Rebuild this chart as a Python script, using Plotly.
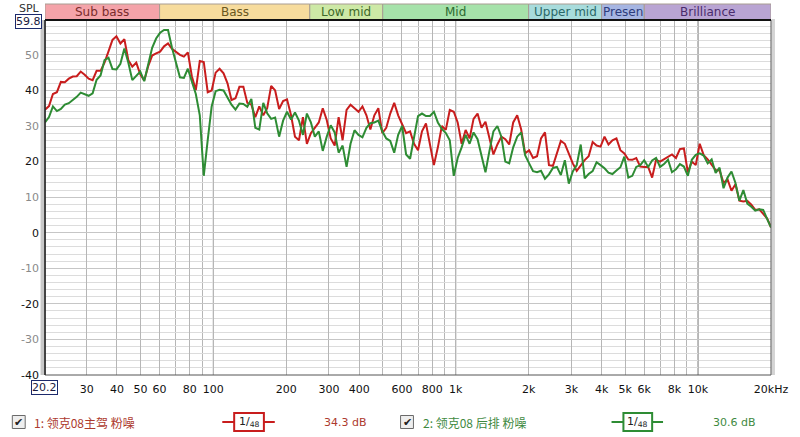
import math
import plotly.graph_objects as go

# ---------------- data ----------------
FREQ_HZ = [20.20, 20.98, 21.78, 22.62, 23.49, 24.39, 25.33, 26.30, 27.31, 28.36,
           29.45, 30.58, 31.76, 32.98, 34.24, 35.56, 36.93, 38.35, 39.82, 41.35,
           42.94, 44.59, 46.30, 48.08, 49.93, 51.85, 53.84, 55.91, 58.06, 60.29,
           62.61, 65.01, 67.51, 70.11, 72.80, 75.60, 78.51, 81.52, 84.66, 87.91,
           91.29, 94.80, 98.41, 102.2, 106.1, 110.2, 114.4, 118.8, 123.4, 128.1,
           133.0, 138.1, 143.5, 149.0, 154.7, 160.7, 166.8, 173.2, 179.9, 186.8,
           194.0, 201.4, 209.2, 217.2, 225.6, 234.2, 243.2, 252.6, 262.3, 272.3,
           282.8, 293.7, 305.0, 316.7, 328.8, 341.5, 354.6, 368.2, 382.4, 397.1,
           412.3, 428.2, 444.6, 461.7, 479.5, 497.9, 517.0, 536.9, 557.6, 579.0,
           601.2, 624.3, 648.3, 673.3, 699.1, 726.0, 753.9, 782.9, 813.0, 844.2,
           876.7, 910.4, 945.3, 981.8, 1019, 1058, 1099, 1141, 1185, 1231,
           1278, 1327, 1378, 1431, 1486, 1543, 1602, 1663, 1727, 1794,
           1863, 1934, 2009, 2086, 2166, 2249, 2336, 2426, 2519, 2616,
           2716, 2821, 2929, 3042, 3158, 3280, 3406, 3537, 3673, 3814,
           3960, 4112, 4270, 4434, 4605, 4782, 4965, 5156, 5354, 5560,
           5774, 5995, 6226, 6465, 6713, 6971, 7239, 7517, 7806, 8106,
           8418, 8741, 9077, 9423, 9784, 10160, 10550, 10960, 11380, 11820,
           12270, 12740, 13230, 13740, 14270, 14810, 15380, 15970, 16590, 17220,
           17890, 18570, 19290, 20000]

RED_DB = [34.6, 35.6, 39.0, 39.5, 42.4, 42.3, 43.3, 43.9, 44.0, 45.3,
          44.4, 43.3, 42.9, 45.5, 45.5, 47.8, 51.0, 54.2, 55.2, 53.2,
          54.4, 48.5, 46.7, 47.8, 44.5, 42.8, 46.8, 49.8, 50.4, 50.9,
          52.4, 53.2, 51.7, 50.9, 50.0, 49.5, 50.7, 44.0, 40.1, 48.3,
          48.0, 39.5, 40.0, 45.0, 46.1, 44.8, 42.0, 37.3, 37.8, 41.0,
          41.0, 36.5, 36.0, 32.5, 35.5, 33.0, 35.0, 41.3, 40.0, 34.8,
          37.0, 37.5, 33.0, 27.0, 26.0, 32.5, 25.0, 28.0, 29.5, 31.0,
          35.0, 31.7, 26.5, 24.5, 32.5, 26.0, 34.5, 36.0, 35.0, 34.0,
          35.5, 33.0, 29.0, 33.0, 35.0, 28.0, 29.5, 33.5, 36.5, 33.0,
          30.5, 28.0, 28.5, 25.0, 23.2, 28.5, 30.7, 24.8, 19.0, 24.0,
          30.0, 28.9, 34.5, 34.0, 31.0, 25.0, 28.9, 26.5, 32.0, 33.5,
          29.5, 31.2, 26.8, 22.0, 24.8, 27.0, 26.3, 24.8, 31.0, 33.0,
          29.0, 22.3, 23.2, 21.0, 21.5, 26.5, 28.2, 19.0, 18.8, 22.5,
          25.8, 25.0, 22.0, 19.5, 17.4, 19.0, 20.4, 21.5, 25.5, 24.5,
          24.2, 27.0, 24.8, 26.0, 26.5, 23.2, 22.3, 20.6, 20.5, 21.0,
          18.6, 18.5, 18.5, 15.5, 20.5, 20.0, 20.6, 21.2, 22.0, 21.0,
          23.5, 23.7, 17.0, 20.0, 19.0, 25.0, 21.8, 20.6, 19.1, 17.6,
          17.5, 14.0, 15.0, 11.8, 13.6, 9.0, 8.8, 9.0, 7.9, 6.4,
          6.6, 5.4, 4.0, 1.5]

GREEN_DB = [31.0, 32.5, 35.5, 34.2, 34.8, 36.0, 36.4, 37.2, 38.2, 39.4,
            39.0, 38.5, 39.2, 43.0, 44.2, 48.5, 49.2, 46.0, 45.9, 47.5,
            51.8, 47.8, 42.9, 44.0, 45.3, 42.6, 47.0, 52.0, 54.6, 56.2,
            57.0, 57.0, 52.0, 48.1, 43.7, 43.5, 46.1, 42.5, 39.0, 33.0,
            16.0, 26.1, 35.5, 39.8, 40.2, 40.0, 38.0, 36.0, 34.6, 36.3,
            36.2, 35.4, 37.6, 29.5, 29.0, 36.5, 33.6, 32.0, 32.4, 27.0,
            31.5, 34.0, 31.8, 33.8, 31.5, 27.5, 33.5, 31.0, 27.0, 28.5,
            23.0, 27.0, 30.2, 28.2, 22.5, 24.5, 18.5, 25.0, 28.8, 27.5,
            26.8, 29.5, 30.8, 31.0, 31.5, 28.5, 26.5, 25.8, 22.5, 27.5,
            30.0, 22.0, 20.8, 26.5, 32.8, 33.5, 32.8, 32.8, 34.0, 31.0,
            29.2, 28.0, 26.0, 16.0, 21.0, 24.0, 27.5, 25.0, 28.2, 26.3,
            21.5, 17.0, 23.0, 28.5, 30.0, 27.0, 20.0, 19.5, 24.0, 27.0,
            28.2, 21.8, 19.5, 17.3, 17.0, 17.4, 15.2, 16.4, 18.2, 18.5,
            16.2, 20.4, 13.8, 17.2, 19.0, 24.8, 15.3, 16.5, 17.3, 19.8,
            19.0, 18.1, 16.9, 16.5, 17.5, 18.4, 21.4, 15.5, 16.0, 18.5,
            19.0, 20.4, 18.5, 20.3, 21.0, 18.5, 19.3, 20.5, 17.0, 17.8,
            19.3, 18.6, 16.0, 20.5, 21.9, 22.3, 21.7, 19.5, 20.6, 16.8,
            18.3, 12.5, 15.5, 17.2, 14.0, 9.0, 12.0, 8.2, 7.3, 6.2,
            6.6, 6.4, 3.8, 1.5]

SERIES_NAMES = ["1: 领克08主驾 粉噪", "2: 领克08 后排 粉噪"]
SERIES_LEVELS = ["34.3 dB", "30.6 dB"]
SERIES_SMOOTHING = ["1/<sub>48</sub>", "1/<sub>48</sub>"]

# labelled ticks and unlabelled grid lines of the frequency axis
X_TICK_VALS = [30, 40, 50, 60, 80, 100, 200, 300, 400, 600, 800,
               1000, 2000, 3000, 4000, 5000, 6000, 8000, 10000, 20000]
X_TICK_TEXT = ["30", "40", "50", "60", "80", "100", "200", "300", "400", "600", "800",
               "1k", "2k", "3k", "4k", "5k", "6k", "8k", "10k", "20kHz"]
X_GRID_ONLY = [70, 90, 500, 700, 900, 7000, 9000]
DECADE_FREQS = [100, 1000, 10000]

Y_TICK_VALS = [-40, -30, -20, -10, 0, 10, 20, 30, 40, 50]

BAND_NAMES = ["Sub bass", "Bass", "Low mid", "Mid", "Upper mid", "Presen", "Brilliance"]
BAND_EDGES = [20.2, 60, 250, 500, 2000, 4000, 6000, 20000]
BAND_FILL = ["#f4a3a9", "#f7dc9d", "#cde9a6", "#a6e2aa", "#a8dcdc", "#a6b5e2", "#b9a4d3"]
BAND_TEXT = ["#7a2c2c", "#6a5820", "#3d6a2a", "#2d6a30", "#2a6868", "#2c3c7c", "#4a2c6c"]

X_MIN, X_MAX = 20.2, 20000
Y_MIN, Y_MAX = -40, 59.8

RED = "#c81d1d"
GREEN = "#2e8c34"
RED_TEXT = "#ad3a2e"
GREEN_TEXT = "#3f8a3f"

assert len(FREQ_HZ) == len(RED_DB) == len(GREEN_DB)
assert len(X_TICK_VALS) == len(X_TICK_TEXT)

# ---------------- layout helpers (page pixels -> paper) ----------------
W, H = 800, 437
ML, MR, MT, MB = 45, 22, 20, 62
PW, PH = W - ML - MR, H - MT - MB


def px(x):
    return (x - ML) / PW


def py(y):
    return 1 - (y - MT) / PH


FONT = "DejaVu Sans, Verdana, sans-serif"
CJK = "Noto Sans CJK SC, DejaVu Sans, sans-serif"

fig = go.Figure()
fig.add_trace(go.Scatter(x=FREQ_HZ, y=RED_DB, mode="lines", name=SERIES_NAMES[0],
                         line=dict(color=RED, width=2), hoverinfo="skip"))
fig.add_trace(go.Scatter(x=FREQ_HZ, y=GREEN_DB, mode="lines", name=SERIES_NAMES[1],
                         line=dict(color=GREEN, width=2), hoverinfo="skip"))

shapes = []
annotations = []

# darker decade grid lines (above grid, below traces)
for f in DECADE_FREQS:
    shapes.append(dict(type="line", xref="x", yref="paper", x0=f, x1=f, y0=0, y1=1,
                       line=dict(color="#707070", width=1), layer="between"))

# frequency band bar
for name, a, b, fill, tc in zip(BAND_NAMES, BAND_EDGES[:-1], BAND_EDGES[1:], BAND_FILL, BAND_TEXT):
    shapes.append(dict(type="rect", xref="x", yref="paper", x0=a, x1=b,
                       y0=py(19.5), y1=py(4), fillcolor=fill,
                       line=dict(color="#a89c92", width=1), layer="above"))
    annotations.append(dict(xref="x", yref="paper", x=(math.log10(a) + math.log10(b)) / 2,
                            y=py(11.5), text=name, showarrow=False,
                            xanchor="center", yanchor="middle",
                            font=dict(family=FONT, size=12, color=tc)))

# frame with 3D-ish edges
shapes.append(dict(type="rect", xref="paper", yref="paper", x0=px(40.5), x1=px(44),
                   y0=0, y1=1, fillcolor="#c8c8c8", line=dict(width=0)))
shapes.append(dict(type="rect", xref="paper", yref="paper", x0=px(778.5), x1=px(782),
                   y0=0, y1=py(19), fillcolor="#d4d4d4", line=dict(width=0)))
shapes.append(dict(type="rect", xref="paper", yref="paper", x0=0, x1=1, y0=0, y1=1,
                   line=dict(color="#555555", width=1), layer="above"))
shapes.append(dict(type="line", xref="paper", yref="paper", x0=0, x1=1, y0=1, y1=1,
                   line=dict(color="#111111", width=2), layer="above"))
shapes.append(dict(type="line", xref="paper", yref="paper", x0=0, x1=0, y0=0, y1=1,
                   line=dict(color="#222222", width=1.5), layer="above"))

# axis corner labels
annotations.append(dict(xref="paper", yref="paper", x=px(29), y=py(8.5), text="SPL",
                        showarrow=False, xanchor="center", yanchor="middle",
                        font=dict(family=FONT, size=11, color="#333333")))
annotations.append(dict(xref="paper", yref="paper", x=px(28), y=py(21.5), text="59.8",
                        showarrow=False, xanchor="center", yanchor="middle",
                        bgcolor="white", bordercolor="#1c2a6c", borderwidth=1, borderpad=0,
                        font=dict(family=FONT, size=11, color="#1a1a40")))
annotations.append(dict(xref="paper", yref="paper", x=px(44.5), y=py(387), text="20.2",
                        showarrow=False, xanchor="center", yanchor="middle",
                        bgcolor="white", bordercolor="#1c2a6c", borderwidth=1, borderpad=0,
                        font=dict(family=FONT, size=11, color="#1a1a40")))

# custom legend row
legend_rows = [
    dict(cb=12, text_x=32, line=(224, 277), box=(236, 266), lvl_x=325,
         color=RED, tcol=RED_TEXT),
    dict(cb=404, text_x=425, line=(617, 669), box=(629, 658), lvl_x=717,
         color=GREEN, tcol=GREEN_TEXT),
]
ly = 422
for k, row in enumerate(legend_rows):
    shapes.append(dict(type="rect", xref="paper", yref="paper",
                       x0=px(row["cb"]), x1=px(row["cb"] + 13), y0=py(ly + 6.5), y1=py(ly - 6.5),
                       fillcolor="#eeeeee", line=dict(color="#6a6a6a", width=1)))
    annotations.append(dict(xref="paper", yref="paper", x=px(row["cb"] + 6.5), y=py(ly),
                            text="✔", showarrow=False, xanchor="center", yanchor="middle",
                            font=dict(family=FONT, size=11, color="#222222")))
    annotations.append(dict(xref="paper", yref="paper", x=px(row["text_x"]), y=py(ly),
                            text=SERIES_NAMES[k], showarrow=False, xanchor="left", yanchor="middle",
                            font=dict(family=CJK, size=12, color=row["tcol"])))
    shapes.append(dict(type="line", xref="paper", yref="paper",
                       x0=px(row["line"][0]), x1=px(row["line"][1]), y0=py(ly), y1=py(ly),
                       line=dict(color=row["color"], width=2)))
    shapes.append(dict(type="rect", xref="paper", yref="paper",
                       x0=px(row["box"][0]), x1=px(row["box"][1]), y0=py(ly + 9), y1=py(ly - 9),
                       fillcolor="white", line=dict(color=row["color"], width=2)))
    annotations.append(dict(xref="paper", yref="paper",
                            x=px((row["box"][0] + row["box"][1]) / 2), y=py(ly),
                            text=SERIES_SMOOTHING[k], showarrow=False,
                            xanchor="center", yanchor="middle",
                            font=dict(family=FONT, size=11, color="#222222")))
    annotations.append(dict(xref="paper", yref="paper", x=px(row["lvl_x"]), y=py(ly),
                            text=SERIES_LEVELS[k], showarrow=False, xanchor="left", yanchor="middle",
                            font=dict(family=FONT, size=11, color=row["tcol"])))

y_text = []
for v in Y_TICK_VALS:
    col = "#111111" if v % 20 == 0 else "#8a8a8a"
    y_text.append(f"<span style='color:{col}'>{v}</span>")

fig.update_layout(
    width=W, height=H,
    margin=dict(l=ML, r=MR, t=MT, b=MB, pad=0),
    paper_bgcolor="white", plot_bgcolor="white",
    showlegend=False,
    shapes=shapes, annotations=annotations,
    xaxis=dict(type="log", range=[math.log10(X_MIN), math.log10(X_MAX)],
               tickmode="array", tickvals=X_TICK_VALS, ticktext=X_TICK_TEXT,
               showgrid=True, gridcolor="#b6b6b6", gridwidth=1,
               minor=dict(tickmode="array", tickvals=X_GRID_ONLY, showgrid=True,
                          gridcolor="#b6b6b6", gridwidth=1, ticks=""),
               zeroline=False, showline=False, ticks="",
               ticklabelstandoff=6,
               tickfont=dict(family=FONT, size=11, color="#111111")),
    yaxis=dict(range=[Y_MIN, Y_MAX], tickmode="array", tickvals=Y_TICK_VALS, ticktext=y_text,
               showgrid=True, gridcolor="#c6c6c6", gridwidth=1,
               minor=dict(tickmode="linear", tick0=0, dtick=2, showgrid=True,
                          gridcolor="#dcdcdc", gridwidth=1),
               zeroline=False, showline=False, ticks="", ticklabelstandoff=5,
               tickfont=dict(family=FONT, size=11, color="#111111")),
)

fig.write_html("out.html", config={"displayModeBar": False},
               post_script="document.body.style.margin='0';")
